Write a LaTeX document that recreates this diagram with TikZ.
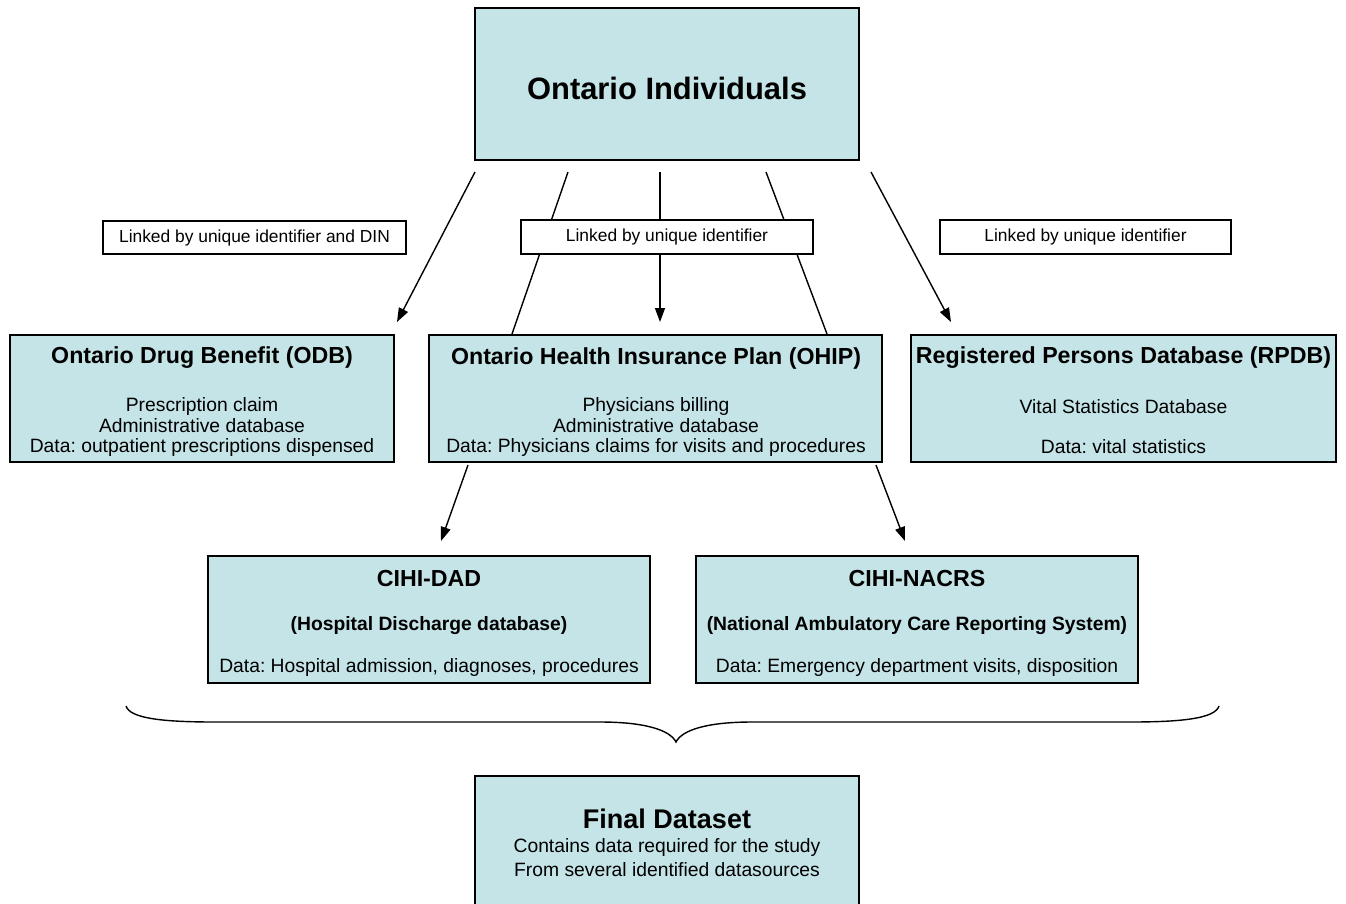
\documentclass[tikz,border=0pt]{standalone}
\usepackage{fontspec}
\setmainfont{Liberation Sans}
\usetikzlibrary{arrows.meta,backgrounds}
\definecolor{boxfill}{RGB}{197,228,231}
\frenchspacing
\tikzset{
  databox/.style={draw=black, line width=1.6pt, fill=boxfill, inner sep=0pt},
  linkbox/.style={draw=black, line width=1.3pt, fill=white, inner sep=0pt,
    font=\fontsize{17.4}{19}\selectfont},
  ttl/.style={inner sep=0pt, font=\fontsize{23.2}{25}\selectfont\bfseries},
  body/.style={inner sep=0pt, align=center, font=\fontsize{19.3}{20}\selectfont},
  subttl/.style={inner sep=0pt, font=\fontsize{19.3}{20}\selectfont\bfseries},
  conn/.style={line width=1.4pt},
  arr/.style={line width=1.4pt, -{Triangle[length=14pt,width=10pt]}},
}
\begin{document}
\begin{tikzpicture}[x=1pt,y=-1pt]
\useasboundingbox (0,0) rectangle (1346,903);
\clip (0,0) rectangle (1346,903);
% boxes
\node[databox, minimum width=384pt, minimum height=152pt] (top) at (667,84) {};
\node[inner sep=0pt, font=\fontsize{30.9}{32}\selectfont\bfseries] (toptxt) at (667,88) {Ontario Individuals};

\node[linkbox, minimum width=303pt, minimum height=33pt] (linkA) at (254.5,237.5) {Linked by unique identifier and DIN};
\node[linkbox, minimum width=292pt, minimum height=34pt] (linkB) at (667,237) {Linked by unique identifier};
\node[linkbox, minimum width=291pt, minimum height=34pt] (linkC) at (1085.5,237) {Linked by unique identifier};

\node[databox, minimum width=384pt, minimum height=127pt] (odb) at (202,398.5) {};
\node[ttl] (odbt) at (202,358) {Ontario Drug Benefit (ODB)};
\node[body] (odbb) at (202,427) {Prescription claim\\Administrative database\\Data: outpatient prescriptions dispensed};

\node[databox, minimum width=453pt, minimum height=127pt] (ohip) at (655.5,398.5) {};
\node[ttl] (ohipt) at (656,358) {Ontario Health Insurance Plan (OHIP)};
\node[body] (ohipb) at (656,427) {Physicians billing\\Administrative database\\Data: Physicians claims for visits and procedures};

\node[databox, minimum width=425pt, minimum height=127pt] (rpdb) at (1123.5,398.5) {};
\node[ttl] (rpdbt) at (1123.5,358) {Registered Persons Database (RPDB)};
\node[body] (rpdbb) at (1123.5,427) {Vital Statistics Database\\[20pt]Data: vital statistics};

\node[databox, minimum width=442pt, minimum height=127pt] (dad) at (429,619.5) {};
\node[ttl] (dadt) at (429,579) {CIHI-DAD};
\node[subttl] (dads) at (429,626) {(Hospital Discharge database)};
\node[body] (dadb) at (429,667) {Data: Hospital admission, diagnoses, procedures};

\node[databox, minimum width=442pt, minimum height=127pt] (nacrs) at (917,619.5) {};
\node[ttl] (nacrst) at (917,579) {CIHI-NACRS};
\node[subttl] (nacrss) at (917,626) {(National Ambulatory Care Reporting System)};
\node[body] (nacrsb) at (917,667) {Data: Emergency department visits, disposition};

\node[databox, minimum width=384pt, minimum height=150pt] (final) at (667,851) {};
\node[inner sep=0pt, font=\fontsize{27}{28}\selectfont\bfseries] (finalt) at (667,819) {Final Dataset};
\node[body, font=\fontsize{19.3}{24}\selectfont] (finalb) at (667,858) {Contains data required for the study\\From several identified datasources};

% connector end points
\coordinate (a1s) at (475,172); \coordinate (a1e) at (397,322);
\coordinate (l1s) at (568,172); \coordinate (l1e) at (512,334);
\coordinate (a2s) at (660,172); \coordinate (a2e) at (660,322);
\coordinate (l2s) at (766,172); \coordinate (l2e) at (827,334);
\coordinate (a3s) at (871,172); \coordinate (a3e) at (951,322);
\coordinate (a4s) at (468,465); \coordinate (a4e) at (441,541);
\coordinate (a5s) at (876,465); \coordinate (a5e) at (905,541);
\coordinate (brL) at (126,706); \coordinate (brTip) at (676,742); \coordinate (brR) at (1219,706);

\begin{scope}[on background layer]
\fill[white] (0,0) rectangle (1346,903);
\draw[arr] (a1s) -- (a1e);
\draw[conn] (l1s) -- (l1e);
\draw[arr] (a2s) -- (a2e);
\draw[conn] (l2s) -- (l2e);
\draw[arr] (a3s) -- (a3e);
\end{scope}
\draw[arr] (a4s) -- (a4e);
\draw[arr] (a5s) -- (a5e);

% brace
\draw[line width=1.4pt] (brL) .. controls (130,718) and (160,722) .. (215,722)
  -- (600,722) .. controls (645,722) and (670,730) .. (brTip)
  .. controls (682,730) and (707,722) .. (752,722)
  -- (1130,722) .. controls (1185,722) and (1215,718) .. (brR);
\end{tikzpicture}
\end{document}
